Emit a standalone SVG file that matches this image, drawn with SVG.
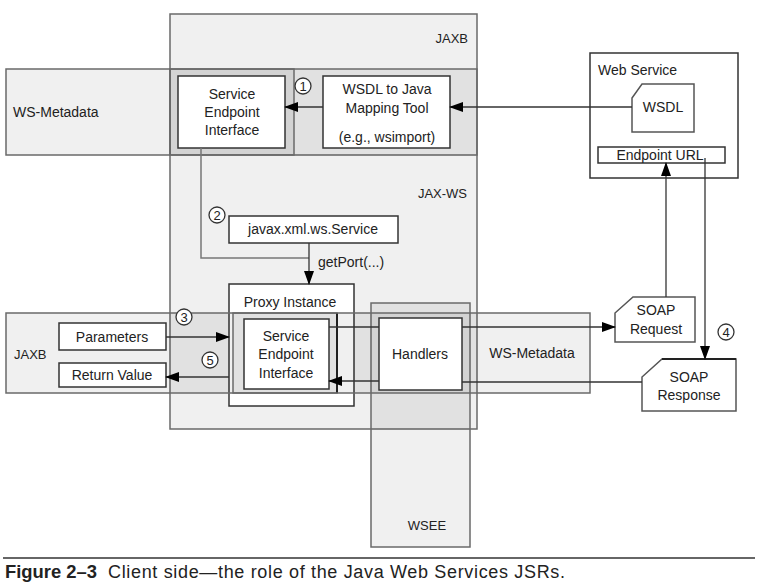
<svg xmlns="http://www.w3.org/2000/svg" width="759" height="588" viewBox="0 0 759 588">
<style>
text{font-family:"Liberation Sans",Arial,sans-serif;fill:#222;font-size:14px}
.c{text-anchor:middle}
.r{text-anchor:end}
.reg{fill:#000;fill-opacity:0.06;stroke:#6a6a6a;stroke-width:1.5}
.box{fill:#fff;stroke:#333;stroke-width:1.5}
.doc{fill:#fff;stroke:#555;stroke-width:1.5}
.num{fill:#fff;stroke:#333;stroke-width:1.3}
.ln{fill:none;stroke:#333;stroke-width:1.3}
.gl{fill:none;stroke:#777;stroke-width:1.5}
.lbl{font-size:13px}
.n{font-size:13px}
</style>
<defs>
<marker id="ah" markerUnits="userSpaceOnUse" markerWidth="14" markerHeight="10" refX="13" refY="5" orient="auto">
<path d="M0,0 L14,5 L0,10 Z" fill="#000"/>
</marker>
</defs>
<rect width="759" height="588" fill="#fff"/>

<g id="region-jaxb-top"><rect class="reg" x="170" y="14" width="307" height="141"/><text class="r lbl" x="468" y="43">JAXB</text></g>
<g id="region-jaxws"><rect class="reg" x="170" y="69" width="307" height="360"/><text class="r lbl" x="467" y="198">JAX-WS</text></g>
<g id="region-wsmeta-top"><rect class="reg" x="6" y="69" width="288" height="86"/><text x="13" y="117">WS-Metadata</text></g>
<g id="proxy"><rect class="box" x="229" y="284" width="125" height="122"/><text class="c" x="290" y="307">Proxy Instance</text></g>
<g id="region-wsee"><rect class="reg" x="371" y="303" width="99" height="244"/><text class="c lbl" x="427" y="530">WSEE</text></g>
<g id="region-jaxb-bottom"><rect class="reg" x="6" y="313" width="331" height="80"/><line x1="337" y1="313" x2="337" y2="393" stroke="#222" stroke-width="2"/><text class="lbl" x="14" y="359">JAXB</text></g>
<g id="region-wsmeta-bottom"><rect class="reg" x="233" y="313" width="357" height="80"/><text class="c" x="532" y="358">WS-Metadata</text></g>

<g id="sei-top"><rect class="box" x="178" y="76" width="107" height="72"/><text class="c" x="232" y="99">Service</text><text class="c" x="232" y="117">Endpoint</text><text class="c" x="232" y="135">Interface</text></g>
<g id="wsdl-tool"><rect class="box" x="323" y="76" width="127" height="72"/><text class="c" x="387" y="94">WSDL to Java</text><text class="c" x="387" y="113">Mapping Tool</text><text class="c" x="387" y="142">(e.g., wsimport)</text></g>
<g id="web-service"><rect class="box" x="590" y="53" width="148" height="125"/><text x="598" y="75">Web Service</text></g>
<g id="wsdl-doc"><path class="doc" d="M642,84 L694,84 L694,132 L632,132 L632,98 Z"/><text class="c" x="663" y="112">WSDL</text></g>
<g id="endpoint-url"><rect class="box" x="598" y="147" width="127" height="16" stroke-width="1.2"/><text class="c" x="660" y="160">Endpoint URL</text></g>
<g id="javax-service"><rect class="box" x="229" y="216" width="169" height="27" stroke-width="1.2"/><text class="c" x="313" y="234">javax.xml.ws.Service</text></g>
<g id="sei-bottom"><rect class="box" x="244" y="319" width="85" height="70" stroke-width="1.2"/><text class="c" x="286" y="341">Service</text><text class="c" x="286" y="359">Endpoint</text><text class="c" x="286" y="378">Interface</text></g>
<g id="handlers"><rect class="box" x="379" y="318" width="83" height="72" stroke-width="1.2"/><text class="c" x="420" y="359">Handlers</text></g>
<g id="parameters"><rect class="box" x="59" y="323" width="107" height="27" stroke-width="1.2"/><text class="c" x="112" y="342">Parameters</text></g>
<g id="return-value"><rect class="box" x="59" y="363" width="107" height="24" stroke-width="1.2"/><text class="c" x="112" y="380">Return Value</text></g>
<g id="soap-request"><path class="doc" d="M633,297 L695,297 L695,342 L615,342 L615,313 Z"/><text class="c" x="656" y="315">SOAP</text><text class="c" x="656" y="334">Request</text></g>
<g id="soap-response"><path class="doc" d="M662,359 L736,359 L736,411 L642,411 L642,377 Z"/><line x1="662" y1="359" x2="736" y2="359" stroke="#222" stroke-width="2.2"/><text class="c" x="689" y="382">SOAP</text><text class="c" x="689" y="400">Response</text></g>

<g id="connectors">
<line class="ln" x1="632" y1="107" x2="450" y2="107" marker-end="url(#ah)"/>
<line class="ln" x1="323" y1="107" x2="285" y2="107" marker-end="url(#ah)"/>
<polyline class="gl" points="201,148 201,258 309,258"/>
<line class="ln" x1="309" y1="243" x2="309" y2="284" stroke="#000" stroke-width="2" marker-end="url(#ah)"/>
<text x="318" y="267">getPort(...)</text>
<line class="ln" x1="166" y1="337" x2="229" y2="337" marker-end="url(#ah)"/>
<line class="ln" x1="229" y1="377" x2="166" y2="377" marker-end="url(#ah)"/>
<line class="ln" x1="329" y1="327" x2="379" y2="327"/>
<line class="ln" x1="462" y1="327" x2="615" y2="327" marker-end="url(#ah)"/>
<line class="ln" x1="642" y1="382" x2="462" y2="382"/>
<line class="ln" x1="379" y1="381" x2="329" y2="381" marker-end="url(#ah)"/>
<line class="ln" x1="666" y1="297" x2="666" y2="163" marker-end="url(#ah)"/>
<line class="ln" x1="705" y1="158" x2="705" y2="359" marker-end="url(#ah)"/>
</g>

<g id="steps">
<circle class="num" cx="303" cy="86" r="8"/><text class="c n" x="303" y="91">1</text>
<circle class="num" cx="217" cy="215" r="8"/><text class="c n" x="217" y="220">2</text>
<circle class="num" cx="184" cy="317" r="8"/><text class="c n" x="184" y="322">3</text>
<circle class="num" cx="726" cy="332" r="8"/><text class="c n" x="726" y="337">4</text>
<circle class="num" cx="210" cy="360" r="8"/><text class="c n" x="210" y="365">5</text>
</g>

<g id="caption">
<line x1="3" y1="558" x2="755" y2="558" stroke="#333" stroke-width="1.5"/>
<text x="5" y="578" style="font-size:18px" font-weight="bold" textLength="92" lengthAdjust="spacingAndGlyphs">Figure 2–3</text>
<text x="108" y="578" style="font-size:18px" textLength="457" lengthAdjust="spacing">Client side—the role of the Java Web Services JSRs.</text>
</g>
</svg>
